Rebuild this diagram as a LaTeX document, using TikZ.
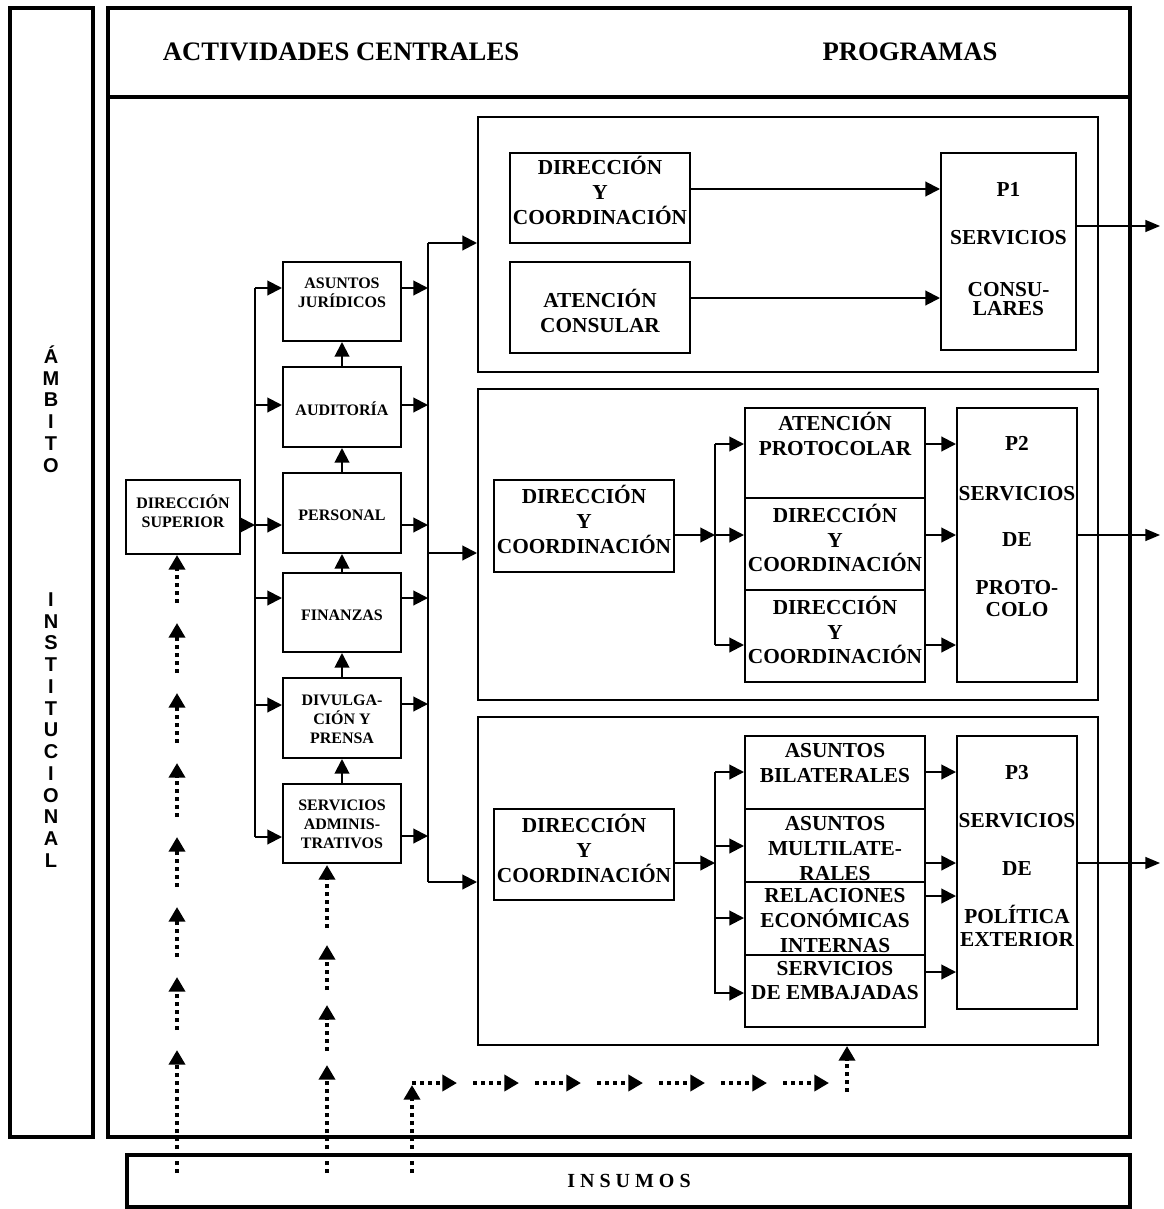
\documentclass[tikz,border=0pt]{standalone}
\usepackage{fontspec}
\setmainfont{Liberation Serif}
\newfontfamily\ambfont{Liberation Sans}
\usetikzlibrary{arrows.meta,fit,calc}

\begin{document}
\begin{tikzpicture}[x=0.75pt,y=-0.75pt,
  frame/.style={draw,line width=3pt,inner sep=0pt},
  box/.style={draw,line width=1.5pt,inner sep=0pt},
  tS/.style={font=\bfseries\fontsize{12}{14.25}\selectfont,align=center,inner sep=0pt},
  tM/.style={font=\bfseries\fontsize{16}{18.5}\selectfont,align=center,inner sep=0pt},
  tP/.style={font=\bfseries\fontsize{16}{17}\selectfont,align=center,inner sep=0pt},
  tH/.style={font=\bfseries\fontsize{20}{24}\selectfont,inner sep=0pt},
  tI/.style={font=\bfseries\fontsize{15}{18}\selectfont,inner sep=0pt},
  tA/.style={font=\ambfont\bfseries\fontsize{15}{16.3}\selectfont,align=center,inner sep=0pt},
  arr/.style={line width=1.5pt,-{Triangle[length=11pt,width=11pt]}},
  thinarr/.style={line width=1pt,-{Triangle[length=11pt,width=9pt]}},
  dots/.style={line width=3pt,dash pattern=on 3pt off 3pt,-{Triangle[length=11pt,width=12pt]}},
]
\useasboundingbox (0,0) rectangle (1163,1209);

% ---- outer frames ----
\node[frame,fit={(10,8)(93,1137)}] (ambito) {};
\node[frame,fit={(108,8)(1130,1137)}] (main) {};
\coordinate (hdr) at (0,97);
\draw[line width=3pt] (main.west |- hdr) -- (main.east |- hdr);
\node[tH] (hdrL) at (341,52) {ACTIVIDADES CENTRALES};
\node[tH] (hdrR) at (910,52) {PROGRAMAS};
\node[frame,fit={(127,1155)(1130,1207)}] (ins) {};
\node[tI] (insT) at (629,1181) {I N S U M O S};

% ---- vertical title ----
\node[tA] (amb1) at (51,409) {Á\\M\\B\\I\\T\\O};
\node[tA] (amb2) at (51,730) {I\\N\\S\\T\\I\\T\\U\\C\\I\\O\\N\\A\\L};

% ---- central activities ----
\node[box,fit={(126,480)(240,554)}] (dsup) {};
\node[tS] (dsupT) at (183,511) {DIRECCIÓN\\SUPERIOR};
\node[box,fit={(283,262)(401,341)}] (asj) {};
\node[tS] (asjT) at (342,292.5) {ASUNTOS\\JURÍDICOS};
\node[box,fit={(283,367)(401,447)}] (aud) {};
\node[tS] (audT) at (342,409) {AUDITORÍA};
\node[box,fit={(283,473)(401,553)}] (per) {};
\node[tS] (perT) at (342,515) {PERSONAL};
\node[box,fit={(283,573)(401,652)}] (fin) {};
\node[tS] (finT) at (342,615) {FINANZAS};
\node[box,fit={(283,678)(401,758)}] (div) {};
\node[tS] (divT) at (342,719.5) {DIVULGA-\\CIÓN Y\\PRENSA};
\node[box,fit={(283,784)(401,863)}] (sad) {};
\node[tS] (sadT) at (342,824.5) {SERVICIOS\\ADMINIS-\\TRATIVOS};

% bus lines
\coordinate (b1t) at (255,288);
\coordinate (b1b) at (255,837);
\coordinate (b1m) at (255,525);
\draw[line width=1.5pt] (b1t) -- (b1b);
\draw[arr] (dsup.east |- b1m) -- (b1m);
\foreach \n/\y in {asj/288,aud/405,per/525,fin/598,div/705,sad/837}{
  \coordinate (in-\n) at (255,\y);
  \draw[arr] (in-\n) -- (\n.west |- in-\n);
}
\draw[arr] (aud.north) -- (asj.south);
\draw[arr] (per.north) -- (aud.south);
\draw[arr] (fin.north) -- (per.south);
\draw[arr] (div.north) -- (fin.south);
\draw[arr] (sad.north) -- (div.south);

\coordinate (b2t) at (428,243);
\coordinate (b2m) at (428,553);
\coordinate (b2b) at (428,882);
\draw[line width=1.5pt] (b2t) -- (b2b);
\foreach \n/\y in {asj/288,aud/405,per/525,fin/598,div/704,sad/836}{
  \coordinate (out-\n) at (428,\y);
  \draw[arr] (\n.east |- out-\n) -- (out-\n);
}

% ---- program 1 ----
\node[box,fit={(478,117)(1098,372)}] (p1o) {};
\draw[arr] (b2t) -- (p1o.west |- b2t);
\node[box,fit={(510,153)(690,243)}] (dyc1) {};
\node[tM] (dyc1T) at (600,190.5) {DIRECCIÓN\\Y\\COORDINACIÓN};
\node[box,fit={(510,262)(690,353)}] (ac1) {};
\node[tM] (ac1T) at (600,311) {ATENCIÓN\\CONSULAR};
\node[box,fit={(941,153)(1076,350)}] (p1) {};
\node[tP] (p1T) at (1008.5,249.5) {P1\\[19pt]SERVICIOS\\[22pt]CONSU-\\[-2.8pt]LARES};
\coordinate (p1a) at (0,189);
\coordinate (p1b) at (0,298);
\draw[arr] (dyc1.east |- p1a) -- (p1.west |- p1a);
\draw[arr] (ac1.east |- p1b) -- (p1.west |- p1b);
\coordinate (e1) at (1160,226);
\draw[thinarr] (p1.east |- e1) -- (e1);

% ---- program 2 ----
\node[box,fit={(478,389)(1098,700)}] (p2o) {};
\draw[arr] (b2m) -- (p2o.west |- b2m);
\node[box,fit={(494,480)(674,572)}] (dyc2) {};
\node[tM] (dyc2T) at (584,519.5) {DIRECCIÓN\\Y\\COORDINACIÓN};
\coordinate (b3t) at (715,444);
\coordinate (b3m) at (715,535);
\coordinate (b3b) at (715,645);
\draw[line width=1.5pt] (b3t) -- (b3b);
\draw[arr] (dyc2.east |- b3m) -- (b3m);
\node[box,fit={(745,408)(925,498)}] (s21) {};
\node[box,fit={(745,498)(925,590)}] (s22) {};
\node[box,fit={(745,590)(925,682)}] (s23) {};
\node[tM] (s21T) at (835,434) {ATENCIÓN\\PROTOCOLAR};
\node[tM] (s22T) at (835,538) {DIRECCIÓN\\Y\\COORDINACIÓN};
\node[tM] (s23T) at (835,630) {DIRECCIÓN\\Y\\COORDINACIÓN};
\node[box,fit={(957,408)(1077,682)}] (p2) {};
\node[tP] (p2T) at (1017,527) {P2\\[20.5pt]SERVICIOS\\[17.5pt]DE\\[19pt]PROTO-\\[-0.5pt]COLO};
\draw[arr] (b3t) -- (s21.west |- b3t);
\draw[arr] (b3m) -- (s22.west |- b3m);
\draw[arr] (b3b) -- (s23.west |- b3b);
\draw[arr] (s21.east |- b3t) -- (p2.west |- b3t);
\draw[arr] (s22.east |- b3m) -- (p2.west |- b3m);
\draw[arr] (s23.east |- b3b) -- (p2.west |- b3b);
\coordinate (e2) at (1160,535);
\draw[thinarr] (p2.east |- e2) -- (e2);

% ---- program 3 ----
\node[box,fit={(478,717)(1098,1045)}] (p3o) {};
\draw[arr] (b2b) -- (p3o.west |- b2b);
\node[box,fit={(494,809)(674,900)}] (dyc3) {};
\node[tM] (dyc3T) at (584,848.5) {DIRECCIÓN\\Y\\COORDINACIÓN};
\coordinate (b4t) at (715,772);
\coordinate (b4m) at (715,863);
\coordinate (b4b) at (715,994);
\draw[line width=1.5pt] (b4t) -- (b4b);
\draw[arr] (dyc3.east |- b4m) -- (b4m);
\node[box,fit={(745,736)(925,809)}] (s31) {};
\node[box,fit={(745,809)(925,882)}] (s32) {};
\node[box,fit={(745,882)(925,955)}] (s33) {};
\node[box,fit={(745,955)(925,1027)}] (s34) {};
\node[tM] (s31T) at (835,763) {ASUNTOS\\BILATERALES};
\node[tM] (s32T) at (835,848.5) {ASUNTOS\\MULTILATE-\\RALES};
\node[tM] (s33T) at (835,920.5) {RELACIONES\\ECONÓMICAS\\INTERNAS};
\node[tM] (s34T) at (835,980.5) {SERVICIOS\\DE EMBAJADAS};
\node[box,fit={(957,736)(1077,1009)}] (p3) {};
\node[tP] (p3T) at (1017,856) {P3\\[19pt]SERVICIOS\\[19pt]DE\\[19.5pt]POLÍTICA\\[0pt]EXTERIOR};
\foreach \s/\y in {s31/772,s32/846,s33/918,s34/993}{
  \coordinate (c-\s) at (715,\y);
  \draw[arr] (c-\s) -- (\s.west |- c-\s);
}
\foreach \s/\y in {s31/772,s32/863,s33/896,s34/972}{
  \coordinate (d-\s) at (0,\y);
  \draw[arr] (\s.east |- d-\s) -- (p3.west |- d-\s);
}
\coordinate (e3) at (1160,863);
\draw[thinarr] (p3.east |- e3) -- (e3);

% ---- input flows (dotted) ----
\foreach \b/\t in {603/555,673/623,743/693,817/763,887/837,957/907,1030/977,1173/1050}
  \draw[dots] (177,\b) -- (177,\t);
\foreach \b/\t in {928/865,990/945,1051/1005,1173/1065}
  \draw[dots] (327,\b) -- (327,\t);
\draw[dots] (412,1173) -- (412,1085);
\foreach \a/\b in {412/457,473/519,535/581,597/643,659/705,721/767,783/829}
  \draw[dots] (\a,1083) -- (\b,1083);
\coordinate (up3) at (847,1092);
\draw[dots] (up3) -- (p3o.south -| up3);
\end{tikzpicture}
\end{document}
